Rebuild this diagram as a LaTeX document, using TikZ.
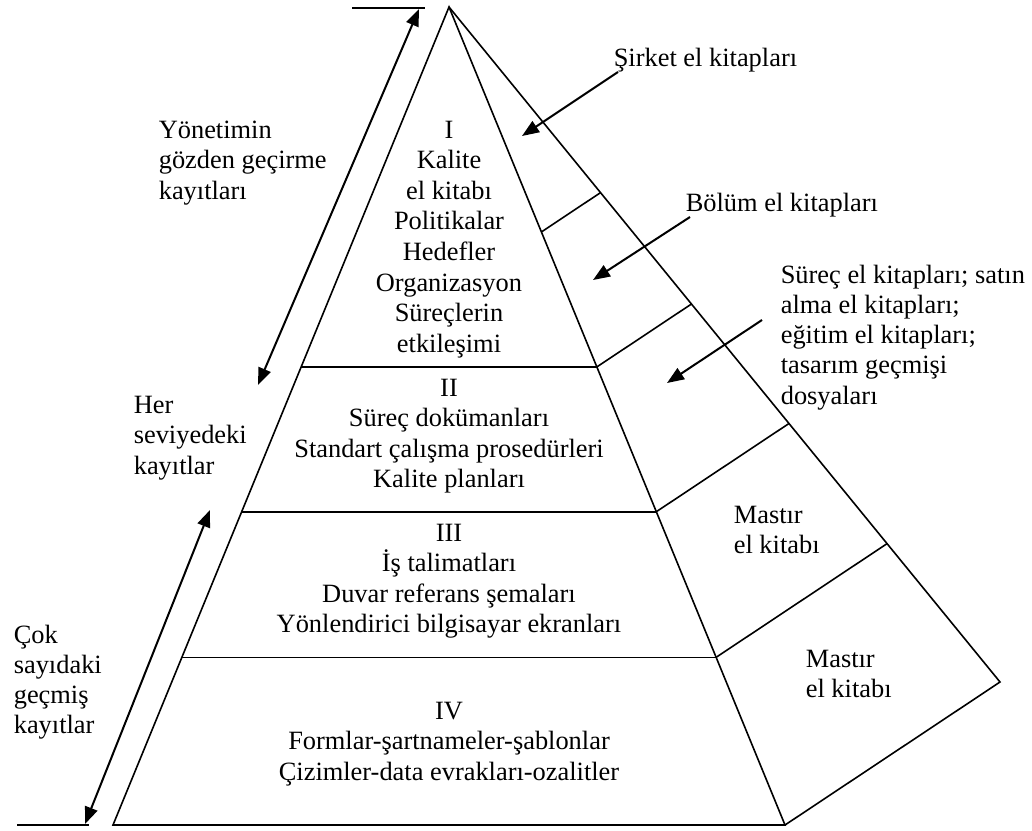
\documentclass[tikz,border=0pt]{standalone}
\usepackage{fontspec}
\setmainfont{Liberation Serif}
\usetikzlibrary{arrows.meta,calc}
\begin{document}
\begin{tikzpicture}[x=1pt,y=-1pt,line width=1.6pt,
  txt/.style={font=\fontsize{26.4}{30.6}\selectfont,inner sep=0pt},
  ctr/.style={txt,anchor=base},
  lft/.style={txt,anchor=base west},
  arr/.style={-{Triangle[length=17pt,width=13pt]},line width=2pt},
  darr/.style={{Triangle[length=17pt,width=13pt]}-{Triangle[length=17pt,width=13pt]},line width=2pt}]
\useasboundingbox (0,0) rectangle (1032,830);
% pyramid
\coordinate (A) at (449,7);
\coordinate (BL) at (113,825);
\coordinate (BR) at (785,825);
\coordinate (BK) at (1000,682);
\draw (BL) -- (A) -- (BR) -- cycle;
\draw (A) -- (BK) -- (BR);
\foreach \t [count=\i] in {0.44,0.617,0.795}{
  \coordinate (L\i) at ($(A)!\t!(BL)$);
  \coordinate (R\i) at ($(A)!\t!(BR)$);
  \draw (L\i) -- (R\i);
}
\foreach \t [count=\i] in {0.275,0.44,0.617,0.795}{
  \coordinate (F\i) at ($(A)!\t!(BR)$);
  \coordinate (K\i) at ($(A)!\t!(BK)$);
  \draw (F\i) -- (K\i);
}
% bars
\coordinate (T1) at (352,8);
\coordinate (T2) at (425,8);
\draw (T1) -- (T2);
\coordinate (B1) at (17,825);
\coordinate (B2) at (89,825);
\draw (B1) -- (B2);
% left arrows
\coordinate (U1) at (419,9);
\coordinate (U2) at (258,385);
\draw[darr] (U2) -- (U1);
\coordinate (D1) at (210,510);
\coordinate (D2) at (85,824);
\draw[darr] (D2) -- (D1);
% right arrows
\coordinate (S1) at (618,72);  \coordinate (S2) at (522,136);
\coordinate (P1) at (690,217); \coordinate (P2) at (593,280);
\coordinate (Q1) at (762,320); \coordinate (Q2) at (667,383);
\draw[arr] (S1) -- (S2);
\draw[arr] (P1) -- (P2);
\draw[arr] (Q1) -- (Q2);
% texts
\node[lft] (sirket) at (613,66) {Şirket el kitapları};
\node[lft] (bolum) at (685,211) {Bölüm el kitapları};
\foreach \s [count=\i from 0] in {Süreç el kitapları; satın,alma el kitapları;,eğitim el kitapları;,tasarım geçmişi,dosyaları}
  \node[lft] (surec\i) at (780,283+30.3*\i) {\s};
\foreach \s [count=\i from 0] in {Yönetimin,gözden geçirme,kayıtları}
  \node[lft] (yon\i) at (158,138+30.6*\i) {\s};
\foreach \s [count=\i from 0] in {Her,seviyedeki,kayıtlar}
  \node[lft] (her\i) at (133,413+30.6*\i) {\s};
\foreach \s [count=\i from 0] in {Çok,sayıdaki,geçmiş,kayıtlar}
  \node[lft] (cok\i) at (13,643+30.3*\i) {\s};
\foreach \s [count=\i from 0] in {I,Kalite,el kitabı,Politikalar,Hedefler,Organizasyon,Süreçlerin,etkileşimi}
  \node[ctr] (lvA\i) at (449,138+30.6*\i) {\s};
\foreach \s [count=\i from 0] in {II,Süreç dokümanları,Standart çalışma prosedürleri,Kalite planları}
  \node[ctr] (lvB\i) at (449,396+30.6*\i) {\s};
\foreach \s [count=\i from 0] in {III,İş talimatları,Duvar referans şemaları,Yönlendirici bilgisayar ekranları}
  \node[ctr] (lvC\i) at (449,541+30.6*\i) {\s};
\foreach \s [count=\i from 0] in {IV,Formlar-şartnameler-şablonlar,Çizimler-data evrakları-ozalitler}
  \node[ctr] (lvD\i) at (449,719+30.6*\i) {\s};
\foreach \s [count=\i from 0] in {Mastır,el kitabı}
  \node[lft] (mA\i) at (733,523+30.3*\i) {\s};
\foreach \s [count=\i from 0] in {Mastır,el kitabı}
  \node[lft] (mB\i) at (805,667+30.3*\i) {\s};
\end{tikzpicture}
\end{document}
